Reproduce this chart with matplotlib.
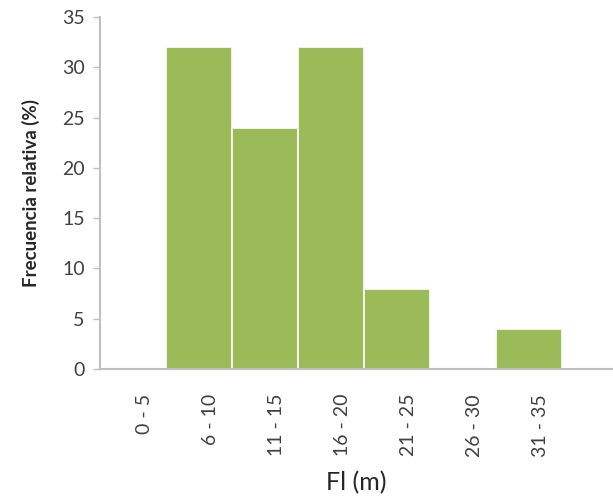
import matplotlib
matplotlib.use('Agg')
import matplotlib.pyplot as plt
import numpy as np

plt.rcParams['font.family'] = ['Lato', 'DejaVu Sans']

# data
categories = ['0 - 5', '6 - 10', '11 - 15', '16 - 20', '21 - 25', '26 - 30', '31 - 35']
freq = [0, 32, 24, 32, 8, 0, 4]

bar_color = '#9BBB59'
axis_color = '#BFBFBF'
text_color = '#404040'

fig = plt.figure(figsize=(6.13, 5.04), dpi=100)
ax = fig.add_axes([0.163, 0.268, 0.837, 0.698])

x = np.arange(len(categories))
ax.bar(x, freq, width=1.0, color=bar_color, edgecolor='white', linewidth=1.2)

ax.set_ylim(0, 35)
ax.set_yticks(range(0, 36, 5))
ax.set_xlim(-0.5, 7.27)
# labels sit a little right of the bar centres in the original
ax.set_xticks(x + 0.17)
ax.set_xticklabels(categories, rotation=90, fontsize=14, color=text_color)

ax.tick_params(axis='x', length=0, pad=18)
ax.tick_params(axis='y', length=5, width=1, color=axis_color, labelsize=14,
               labelcolor=text_color, pad=6)

for s in ['top', 'right']:
    ax.spines[s].set_visible(False)
for s in ['left', 'bottom']:
    ax.spines[s].set_color(axis_color)
    ax.spines[s].set_linewidth(1.5)

ax.set_ylabel('Frecuencia relativa (%)', fontsize=13.5, fontweight='bold', color='#262626', labelpad=16)
ax.set_xlabel('Fl (m)', fontsize=18, color='#262626', labelpad=10)

plt.savefig('out.png', dpi=100)
